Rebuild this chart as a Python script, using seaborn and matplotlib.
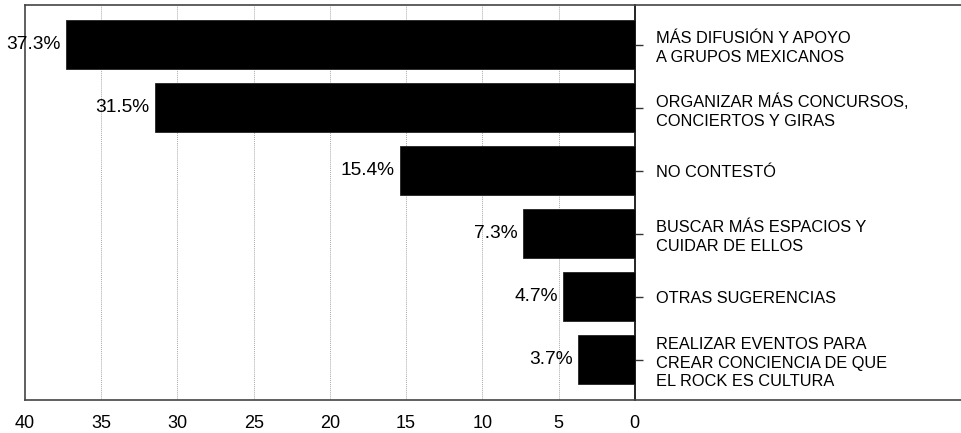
import matplotlib
matplotlib.use("Agg")
import matplotlib.pyplot as plt
import seaborn as sns
import pandas as pd

categories = [
    "MÁS DIFUSIÓN Y APOYO\nA GRUPOS MEXICANOS",
    "ORGANIZAR MÁS CONCURSOS,\nCONCIERTOS Y GIRAS",
    "NO CONTESTÓ",
    "BUSCAR MÁS ESPACIOS Y\nCUIDAR DE ELLOS",
    "OTRAS SUGERENCIAS",
    "REALIZAR EVENTOS PARA\nCREAR CONCIENCIA DE QUE\nEL ROCK ES CULTURA",
]
values = [37.3, 31.5, 15.4, 7.3, 4.7, 3.7]
xticks = [40, 35, 30, 25, 20, 15, 10, 5, 0]

df = pd.DataFrame({"cat": categories, "val": values})

sns.set_style("white")
plt.rcParams["font.family"] = ["Liberation Sans", "DejaVu Sans"]
plt.rcParams["text.color"] = "black"
plt.rcParams["xtick.color"] = "black"
plt.rcParams["ytick.color"] = "black"

fig = plt.figure(figsize=(9.61, 4.33), dpi=100)
ax = fig.add_axes([0.026, 0.0762, 0.974, 0.9123])

sns.barplot(data=df, x="val", y="cat", order=categories, color="black",
            edgecolor="#222222", linewidth=0.6, width=0.78, saturation=1,
            ax=ax, zorder=3)

ax.set_xlim(40, -21.4)
ax.set_ylim(5.64, -0.63)
ax.set_xticks(xticks)
ax.set_xticklabels([str(t) for t in xticks], fontsize=13)
ax.tick_params(axis="x", length=7, width=1.1, color="#333333", pad=4,
               labelcolor="black")

# vertical dotted grid
for t in xticks:
    if 0 < t < 40:
        ax.axvline(t, color="#aaaaaa", linestyle=(0, (1, 1)), linewidth=0.7, zorder=0)

# y axis at zero, labels on right
ax.spines["right"].set_position(("data", 0))
ax.yaxis.set_ticks_position("right")
ax.yaxis.set_label_position("right")
ax.tick_params(axis="y", length=6, width=1.0, color="#333333", pad=9, labelsize=11.8,
               labelright=True, labelleft=False, labelcolor="black")
for lab in ax.get_yticklabels():
    lab.set_horizontalalignment("left")
    lab.set_linespacing(1.32)

for s in ["left", "top", "bottom"]:
    ax.spines[s].set_color("#444444")
    ax.spines[s].set_linewidth(1.2)
ax.spines["right"].set_color("black")
ax.spines["right"].set_linewidth(1.2)

ax.set_xlabel("")
ax.set_ylabel("")

for c in ax.containers:
    ax.bar_label(c, labels=[f"{v:.1f}%" for v in values], padding=4,
                 fontsize=13.8, color="black")

fig.savefig("out.png", dpi=100)
